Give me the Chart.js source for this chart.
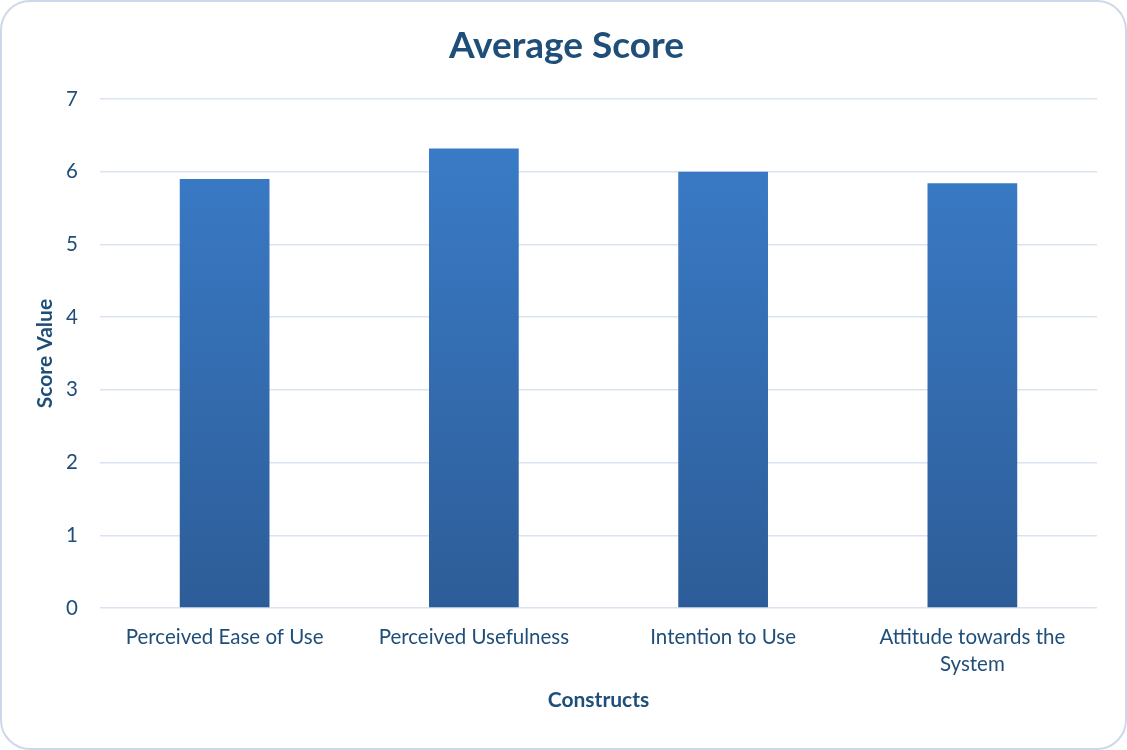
<!DOCTYPE html>
<html>
<head>
<meta charset="utf-8">
<script src="https://cdn.jsdelivr.net/npm/chart.js@4"></script>
<style>
    html, body { margin: 0; padding: 0; background: #ffffff; }
    #wrap {
        position: absolute; left: 0; top: 0;
        width: 1123px; height: 746px;
        border: 2px solid #cdd8e8;
        border-radius: 30px;
        background: #ffffff;
        overflow: hidden;
    }
</style>
</head>
<body>
<div id="wrap"><canvas id="scoreChart" width="1123" height="746"></canvas></div>
<script>
const constructs = ["Perceived Ease of Use", "Perceived Usefulness", "Intention to Use", ["Attitude towards the", "System"]];
const averageScores = [5.9, 6.32, 6.0, 5.84];
const yTicks = [0, 1, 2, 3, 4, 5, 6, 7];

const navy = "#1f4e79";
const fontFamily = "Lato, 'Open Sans', sans-serif";

function barGradient(context) {
    const chart = context.chart;
    const area = chart.chartArea;
    if (!area) return "#3a7dcb";
    const g = chart.ctx.createLinearGradient(0, area.top, 0, area.bottom);
    g.addColorStop(0, "#3b7ecc");
    g.addColorStop(1, "#2d5d98");
    return g;
}

const ctx = document.getElementById("scoreChart").getContext("2d");
new Chart(ctx, {
    type: "bar",
    data: {
        labels: constructs,
        datasets: [{
            label: "Average Score",
            data: averageScores,
            backgroundColor: barGradient,
            borderWidth: 0,
            categoryPercentage: 1.0,
            barPercentage: 0.36
        }]
    },
    options: {
        responsive: false,
        animation: false,
        layout: { padding: { left: 34, right: 28, top: 22, bottom: 35 } },
        plugins: {
            legend: { display: false },
            tooltip: { enabled: false },
            title: {
                display: true,
                text: "Average Score",
                color: navy,
                font: { family: fontFamily, size: 37, weight: "bold" },
                padding: { top: 0, bottom: 30.6 }
            }
        },
        scales: {
            x: {
                afterFit: axis => { axis.height = 105; },
                grid: { display: false, drawTicks: false },
                border: { display: false },
                ticks: {
                    color: navy,
                    font: { family: fontFamily, size: 20.5, lineHeight: 1.3 },
                    maxRotation: 0,
                    padding: 16
                },
                title: {
                    display: true,
                    text: "Constructs",
                    color: navy,
                    font: { family: fontFamily, size: 21, weight: "bold" },
                    padding: { top: 0, bottom: 0 }
                }
            },
            y: {
                min: 0,
                max: 7,
                afterBuildTicks: axis => { axis.ticks = yTicks.map(v => ({ value: v })); },
                afterFit: axis => { axis.width = 64; },
                grid: { color: "#d9e3f1", lineWidth: 1.5, drawTicks: false },
                border: { display: false },
                ticks: {
                    color: navy,
                    font: { family: fontFamily, size: 20.5 },
                    padding: 22
                },
                title: {
                    display: true,
                    text: "Score Value",
                    color: navy,
                    font: { family: fontFamily, size: 21, weight: "bold" },
                    padding: { top: -3, bottom: 0 }
                }
            }
        }
    }
});
</script>
</body>
</html>
